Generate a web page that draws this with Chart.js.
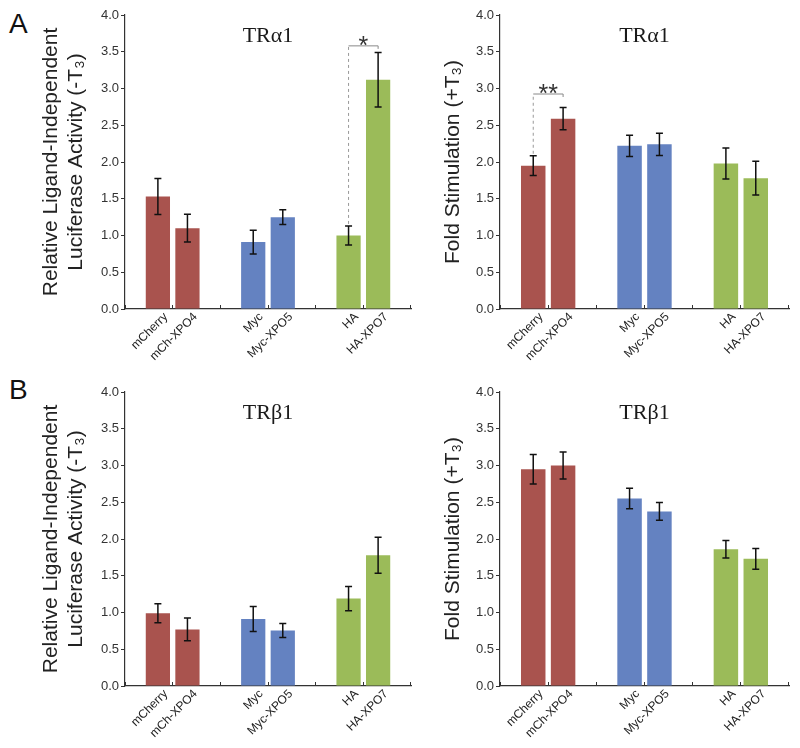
<!DOCTYPE html>
<html>
<head>
<meta charset="utf-8">
<script src="https://cdn.jsdelivr.net/npm/chart.js@4"></script>
<style>
  body { margin: 0; background: #fff; width: 800px; height: 748px; position: relative; overflow: hidden; font-family: "Liberation Sans", Arial, sans-serif; }
  .panel { position: absolute; }
  .letter { position: absolute; font-size: 28px; color: #111; line-height: 32px; }
</style>
</head>
<body>
<div class="letter" style="left:9px; top:8px;">A</div>
<div class="letter" style="left:9px; top:374px;">B</div>
<div class="panel" style="left:0; top:0;"><canvas id="aMinus" width="415" height="372"></canvas></div>
<div class="panel" style="left:415px; top:0;"><canvas id="aPlus" width="385" height="372"></canvas></div>
<div class="panel" style="left:0; top:377px;"><canvas id="bMinus" width="415" height="372"></canvas></div>
<div class="panel" style="left:415px; top:377px;"><canvas id="bPlus" width="385" height="372"></canvas></div>
<script>
// categories
const barLabels = ['mCherry', 'mCh-XPO4', 'Myc', 'Myc-XPO5', 'HA', 'HA-XPO7'];
const groups = ['mCherry', 'Myc', 'HA'];
const groupColors = ['#A9534E', '#6482C1', '#9BBB59'];

// y axis
const yMin = 0, yMax = 4, yStep = 0.5;

// values (mean, error)
const aMinusT3 = [1.53, 1.10, 0.91, 1.25, 1.00, 3.12];
const aMinusT3Err = [0.245, 0.19, 0.16, 0.10, 0.13, 0.37];
const aPlusT3 = [1.95, 2.59, 2.22, 2.24, 1.98, 1.78];
const aPlusT3Err = [0.135, 0.15, 0.145, 0.15, 0.21, 0.23];
const bMinusT3 = [0.99, 0.77, 0.91, 0.755, 1.19, 1.78];
const bMinusT3Err = [0.128, 0.155, 0.17, 0.095, 0.165, 0.245];
const bPlusT3 = [2.95, 3.00, 2.55, 2.375, 1.86, 1.73];
const bPlusT3Err = [0.20, 0.185, 0.14, 0.12, 0.12, 0.14];

// significance: [from bar, to bar, bracket value, mark]
const aMinusSig = [4, 5, 3.58, '*'];
const aPlusSig = [0, 1, 2.925, '**'];

const minusTitle = ['Relative Ligand-Independent', 'Luciferase Activity (-T\u2083)'];
const plusTitle = 'Fold Stimulation (+T\u2083)';

const sansFont = '"Liberation Sans", Arial, sans-serif';

// error bars, bar labels, panel title and significance bracket
const extrasPlugin = {
  id: 'extras',
  afterDatasetsDraw(chart) {
    const o = chart.options.plugins.extras;
    const ctx = chart.ctx;
    const y = chart.scales.y;
    const area = chart.chartArea;
    const xs = [];
    ctx.save();
    [0, 1].forEach(k => {
      chart.getDatasetMeta(k).data.forEach((el, j) => {
        const idx = 2 * j + k;
        xs[idx] = el.x;
        const v = o.values[idx], e = o.errors[idx];
        const yt = y.getPixelForValue(v + e), yb = y.getPixelForValue(v - e);
        ctx.strokeStyle = '#111';
        ctx.lineWidth = 1.5;
        ctx.beginPath();
        ctx.moveTo(el.x, yt); ctx.lineTo(el.x, yb);
        ctx.moveTo(el.x - 3.5, yt); ctx.lineTo(el.x + 3.5, yt);
        ctx.moveTo(el.x - 3.5, yb); ctx.lineTo(el.x + 3.5, yb);
        ctx.stroke();
      });
    });

    // rotated bar labels
    ctx.fillStyle = '#222';
    ctx.font = '12px ' + sansFont;
    ctx.textAlign = 'right';
    ctx.textBaseline = 'middle';
    xs.forEach((x, idx) => {
      ctx.save();
      ctx.translate(x + 8, area.bottom + 6);
      ctx.rotate(-Math.PI / 4);
      ctx.fillText(barLabels[idx], 0, 0);
      ctx.restore();
    });

    // panel title
    ctx.fillStyle = '#1a1a1a';
    ctx.font = '22px "Liberation Serif", "Times New Roman", serif';
    ctx.textAlign = 'center';
    ctx.textBaseline = 'middle';
    ctx.fillText(o.title, (area.left + area.right) / 2, area.top + 21);

    // significance bracket
    if (o.sig) {
      const [a, b, val, mark] = o.sig;
      const by = y.getPixelForValue(val);
      const aTop = y.getPixelForValue(o.values[a] + o.errors[a]);
      ctx.strokeStyle = '#999';
      ctx.lineWidth = 1;
      ctx.setLineDash([3, 3]);
      ctx.beginPath();
      ctx.moveTo(xs[a], aTop - 2); ctx.lineTo(xs[a], by);
      ctx.stroke();
      ctx.setLineDash([]);
      ctx.strokeStyle = '#888';
      ctx.beginPath();
      ctx.moveTo(xs[a], by); ctx.lineTo(xs[b], by); ctx.lineTo(xs[b], by + 3);
      ctx.stroke();
      ctx.fillStyle = '#333';
      ctx.font = '25px ' + sansFont;
      ctx.textBaseline = 'alphabetic';
      ctx.fillText(mark, (xs[a] + xs[b]) / 2, by + 8);
    }
    ctx.restore();
  }
};

function makeDatasets(vals) {
  return [0, 1].map(k => ({
    label: k ? 'second' : 'first',
    data: groups.map((g, j) => vals[2 * j + k]),
    backgroundColor: groupColors,
    borderWidth: 0,
    categoryPercentage: 0.62,
    barPercentage: 0.82
  }));
}

function makeChart(id, vals, errs, yTitle, title, sig, yWidth, rightPad, titlePad) {
  return new Chart(document.getElementById(id), {
    type: 'bar',
    data: { labels: groups, datasets: makeDatasets(vals) },
    options: {
      responsive: false,
      animation: false,
      layout: { padding: { top: 15, right: rightPad, left: 0, bottom: 0 } },
      plugins: {
        legend: { display: false },
        tooltip: { enabled: false },
        extras: { values: vals, errors: errs, title: title, sig: sig }
      },
      scales: {
        x: {
          type: 'category',
          offset: true,
          weight: 1,
          grid: { display: false },
          border: { display: true, color: '#333', width: 1.2 },
          ticks: { display: false },
          afterFit(s) { s.height = 63; }
        },
        x2: {
          type: 'category',
          labels: barLabels,
          position: 'bottom',
          offset: true,
          weight: 0,
          grid: { drawOnChartArea: false, offset: true, tickLength: -4, color: '#333', lineWidth: 1 },
          border: { display: false },
          ticks: { display: false },
          afterFit(s) { s.height = 0; }
        },
        y: {
          min: yMin,
          max: yMax,
          ticks: {
            stepSize: yStep,
            padding: 2,
            color: '#333',
            font: { size: 13, family: sansFont },
            callback: v => v.toFixed(1)
          },
          grid: { drawOnChartArea: false, tickLength: 4, color: '#333' },
          border: { display: true, color: '#333', width: 1.2 },
          title: {
            display: true,
            text: yTitle,
            color: '#222',
            font: { size: 21, family: sansFont, lineHeight: 1.22 },
            padding: { top: titlePad, bottom: 0 }
          },
          afterFit(s) { s.width = yWidth; }
        }
      }
    },
    plugins: [extrasPlugin]
  });
}

makeChart('aMinus', aMinusT3, aMinusT3Err, minusTitle, 'TR\u03b11', aMinusSig, 125, 4, 38);
makeChart('aPlus', aPlusT3, aPlusT3Err, plusTitle, 'TR\u03b11', aPlusSig, 85, 11, 25);
makeChart('bMinus', bMinusT3, bMinusT3Err, minusTitle, 'TR\u03b21', null, 125, 4, 38);
makeChart('bPlus', bPlusT3, bPlusT3Err, plusTitle, 'TR\u03b21', null, 85, 11, 25);
</script>
</body>
</html>
